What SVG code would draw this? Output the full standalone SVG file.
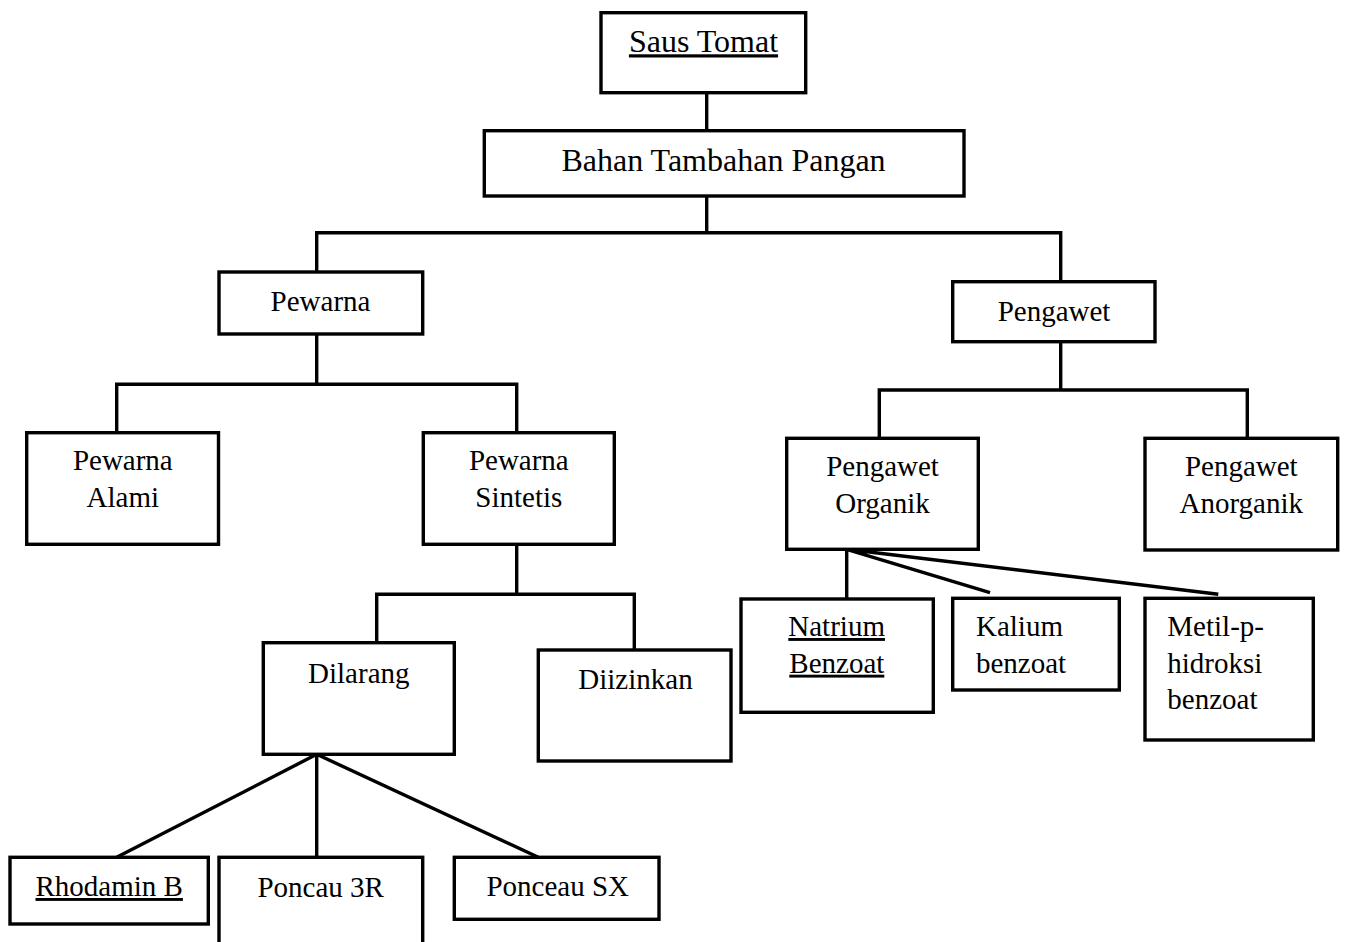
<svg xmlns="http://www.w3.org/2000/svg" width="1346" height="942" viewBox="0 0 1346 942">
<style>
.box{fill:#fff;stroke:#000;stroke-width:3.4}
.t{font-family:"Liberation Serif","Times New Roman",serif;font-size:29px;fill:#000}
.big{font-size:32px}
.c{text-anchor:middle}
.u{text-decoration:underline}
.con{fill:none;stroke:#000;stroke-width:3.4;stroke-linejoin:miter}
</style>
<rect width="1346" height="942" fill="#fff"/>
<g id="connectors">
<path class="con" d="M706.7,92.7 V130.7"/>
<path class="con" d="M706.7,196 V232.7 M316.7,272 V232.7 H1060.7 V281.7"/>
<path class="con" d="M316.7,334 V384.3 M116.7,432.7 V384.3 H516.7 V432.7"/>
<path class="con" d="M1060.7,341.7 V390 M879.3,438.3 V390 H1247.3 V438.3"/>
<path class="con" d="M516.7,544.3 V594.3 M376.7,642.7 V594.3 H634.3 V650"/>
<path class="con" d="M316.7,754.3 L116.7,857.3 M316.7,754.3 V857.3 M316.7,754.3 L538.3,857.3"/>
<path class="con" d="M846.7,549.3 V599 M846.7,549.3 L990,592.7 M846.7,549.3 L1218.3,594.3"/>
</g>
<g id="saus-tomat">
<rect class="box" x="601" y="12.7" width="204.7" height="80"/>
<text class="t big c u" x="703.5" y="52.3">Saus Tomat</text>
</g>
<g id="bahan-tambahan-pangan">
<rect class="box" x="484.3" y="130.7" width="479.7" height="65.3"/>
<text class="t big c" x="723.5" y="170.7">Bahan Tambahan Pangan</text>
</g>
<g id="pewarna">
<rect class="box" x="219" y="272" width="203.7" height="62"/>
<text class="t c" x="320.5" y="311">Pewarna</text>
</g>
<g id="pengawet">
<rect class="box" x="952.7" y="281.7" width="202.3" height="60"/>
<text class="t c" x="1054" y="320.7">Pengawet</text>
</g>
<g id="pewarna-alami">
<rect class="box" x="26.7" y="432.7" width="191.8" height="111.6"/>
<text class="t c" x="122.8" y="470">Pewarna</text>
<text class="t c" x="122.8" y="506.7">Alami</text>
</g>
<g id="pewarna-sintetis">
<rect class="box" x="423.3" y="432.7" width="191" height="111.6"/>
<text class="t c" x="518.8" y="470">Pewarna</text>
<text class="t c" x="518.8" y="506.7">Sintetis</text>
</g>
<g id="pengawet-organik">
<rect class="box" x="786.7" y="438.3" width="191.6" height="111"/>
<text class="t c" x="882.5" y="476">Pengawet</text>
<text class="t c" x="882.5" y="512.7">Organik</text>
</g>
<g id="pengawet-anorganik">
<rect class="box" x="1145" y="438.3" width="192.7" height="111.7"/>
<text class="t c" x="1241.3" y="476">Pengawet</text>
<text class="t c" x="1241.3" y="512.7">Anorganik</text>
</g>
<g id="dilarang">
<rect class="box" x="263.3" y="642.7" width="191" height="111.6"/>
<text class="t c" x="358.8" y="683.3">Dilarang</text>
</g>
<g id="diizinkan">
<rect class="box" x="538.3" y="650" width="192.7" height="111"/>
<text class="t c" x="635.5" y="689.3">Diizinkan</text>
</g>
<g id="natrium-benzoat">
<rect class="box" x="741" y="599" width="192.3" height="113.3"/>
<text class="t u" x="788.3" y="636">Natrium</text>
<text class="t u" x="789.3" y="672.7">Benzoat</text>
</g>
<g id="kalium-benzoat">
<rect class="box" x="952.7" y="598.3" width="166.6" height="91.7"/>
<text class="t" x="976" y="636">Kalium</text>
<text class="t" x="976" y="672.7">benzoat</text>
</g>
<g id="metil-p-hidroksi-benzoat">
<rect class="box" x="1145" y="598.3" width="168.3" height="141.7"/>
<text class="t" x="1167.3" y="636">Metil-p-</text>
<text class="t" x="1167.3" y="672.7">hidroksi</text>
<text class="t" x="1167.3" y="709.3">benzoat</text>
</g>
<g id="rhodamin-b">
<rect class="box" x="10" y="857.3" width="198.3" height="66.7"/>
<text class="t c u" x="109.2" y="896">Rhodamin B</text>
</g>
<g id="poncau-3r">
<rect class="box" x="219" y="857.3" width="203.7" height="100"/>
<text class="t c" x="320.7" y="896.7">Poncau 3R</text>
</g>
<g id="ponceau-sx">
<rect class="box" x="454.3" y="857.3" width="204.7" height="62"/>
<text class="t c" x="557.7" y="896">Ponceau SX</text>
</g>
</svg>
